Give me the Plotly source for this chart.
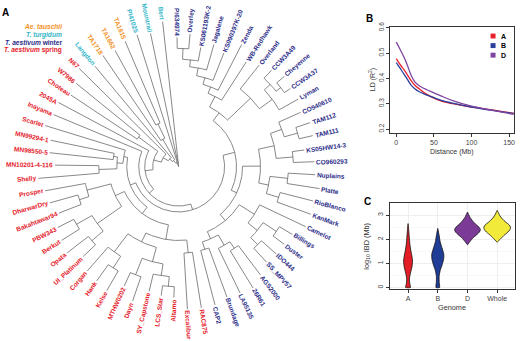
import math
import plotly.graph_objects as go

W, H = 520, 341

# ---------------- Panel A: tree data ----------------
leaf_names = ["PI634974", "Overley", "KS061193K-2", "Jagalene", "KS090397K-20", "Zenda", "WB-Redhawk",
              "Overland", "CCW3A49", "Cheyenne", "CCW3A37", "Lyman", "CO940610", "TAM112", "TAM111",
              "KS05HW14-3", "CO960293", "Nuplains", "Platte", "RioBlanco", "KanMark", "Camelot",
              "Billings", "Duster", "IDO444", "SS_MPV57", "AGS2000", "26R61", "LA95135", "Brundage",
              "CAP2", "RAC875", "Excalibur", "Altamo", "LCS_Star", "SY_Capstone", "Dayn", "MTHW0202",
              "Kelse", "Hank", "Corgan", "UI_Platinum", "Opata", "Berkut", "PBW343", "Bakahtawar94",
              "DharwarDry", "Prosper", "Shelly", "MN10201-4-116", "MN98550-5", "MN99294-1", "Scarlet",
              "Inayama", "2045A", "Choteau", "W7986", "N67", "Langdon", "TA1718", "TA1662", "TA1615",
              "PI41025", "Mountrail", "Bert"]
leaf_group = ["winter"] * 31 + ["spring"] * 27 + ["turgidum"] + ["tauschii"] * 3 + ["turgidum"] * 3
leaf_dist = [131, 135, 123, 129, 124, 139, 126,
             131, 135, 140, 137, 138, 134, 139, 138,
             127, 136, 137, 143, 139, 141, 141,
             133, 132, 132, 131, 137, 144, 142, 141,
             145, 145, 145, 133, 132, 130, 144, 133,
             145, 142, 140, 132, 142, 139, 136, 129,
             134, 136, 141, 124, 130, 131, 140,
             136, 137, 130, 133, 141, 132, 136, 134, 138,
             140, 138, 148]

# clades: [node height, child, child, ...]
T1 = [80, [87, [94, [102, [109, [120, "PI634974", "Overley"], "KS061193K-2"], "Jagalene"],
                "KS090397K-20"], "Zenda"], "WB-Redhawk"]
T2 = [100, "Overland", [116, [124, "CCW3A49", [130, "Cheyenne", "CCW3A37"]], "Lyman"]]
T3 = [98, [110, "CO940610", [124, "TAM112", "TAM111"]], [115, "KS05HW14-3", "CO960293"]]
T4 = [92, [110, "Nuplains", "Platte"], [105, "RioBlanco", "KanMark"]]
T5 = [90, "Camelot", [102, [118, "Billings", "Duster"], [112, "IDO444", "SS_MPV57"]]]
T6 = [80, [92, [100, "AGS2000", "26R61"], "LA95135"], [88, "Brundage", "CAP2"]]
R1 = [88, "RAC875", "Excalibur"]
R2 = [100, [112, [122, "Altamo", "LCS_Star"], "SY_Capstone"], [118, "Dayn", "MTHW0202"]]
R3 = [108, [122, "Kelse", "Hank"], "Corgan"]
R4 = [100, [115, "UI_Platinum", "Opata"], [118, "Berkut", "PBW343"]]
R5 = [95, [105, "Bakahtawar94", "DharwarDry"], "Prosper"]
R6 = [62, [80, "Shelly", "MN10201-4-116"], [66, "MN98550-5", "MN99294-1"]]
winter_clade = [58, [68, T1, T2], [64, [82, T3, T4], [72, T5, T6]]]
spring_clade = [52, [60, [75, R1, [85, R2, R3]], [70, R4, R5]], [56, R6, "Scarlet"]]
tree = [0, [3, [5, [8, [12, [18, [26, [34, [40, [46, winter_clade, spring_clade], "Inayama"], "2045A"],
                                  [50, "Choteau", "W7986"]], "N67"], "Langdon"],
                    [32, "TA1718", [48, "TA1662", "TA1615"]]], "PI41025"], "Mountrail"], "Bert"]

group_color = {"tauschii": "#F5901E", "turgidum": "#35B6C9", "winter": "#2B2C88", "spring": "#E5202A"}
legend_items = [("<i>Ae. tauschii</i>", "tauschii"), ("<i>T. turgidum</i>", "turgidum"),
                ("<i>T. aestivum</i> winter", "winter"), ("<i>T. aestivum</i> spring", "spring")]

# ---------------- Panel B data ----------------
ld_dist = [0, 5, 10, 15, 20, 25, 30, 40, 50, 60, 75, 100, 125, 156]
ld_A = [0.478, 0.455, 0.435, 0.413, 0.39, 0.372, 0.36, 0.338, 0.322, 0.31, 0.30, 0.287, 0.277, 0.262]
ld_B = [0.462, 0.44, 0.418, 0.395, 0.372, 0.358, 0.348, 0.335, 0.324, 0.313, 0.302, 0.287, 0.275, 0.262]
ld_D = [0.543, 0.515, 0.485, 0.45, 0.41, 0.385, 0.372, 0.356, 0.343, 0.33, 0.312, 0.29, 0.276, 0.258]
ld_names = ["A", "B", "D"]
ld_colors = ["#E8202A", "#2A3E9A", "#7E45A0"]

# ---------------- Panel C data ----------------
genomes = ["A", "B", "D", "Whole"]
vio_colors = ["#E41E26", "#1F3C96", "#7B3A96", "#F2EA3A"]
vio_y = [
    [0.0, 0.15, 0.35, 0.6, 0.85, 1.1, 1.3, 1.55, 1.8, 2.1, 2.4, 2.65],
    [0.0, 0.2, 0.45, 0.7, 0.95, 1.2, 1.4, 1.65, 1.9, 2.2, 2.45],
    [1.77, 1.9, 2.05, 2.2, 2.3, 2.4, 2.5, 2.62, 2.75, 2.9, 3.0, 3.13],
    [1.88, 2.0, 2.15, 2.3, 2.4, 2.5, 2.6, 2.72, 2.85, 3.0, 3.1, 3.2],
]
vio_w = [
    [0.08, 0.06, 0.045, 0.08, 0.13, 0.15, 0.13, 0.09, 0.06, 0.04, 0.02, 0.0],
    [0.06, 0.05, 0.045, 0.08, 0.15, 0.2, 0.2, 0.14, 0.08, 0.04, 0.0],
    [0.0, 0.08, 0.18, 0.32, 0.4, 0.435, 0.39, 0.28, 0.18, 0.09, 0.05, 0.0],
    [0.0, 0.1, 0.22, 0.36, 0.43, 0.45, 0.4, 0.28, 0.17, 0.08, 0.04, 0.0],
]

# ---------------- geometry / styles ----------------
CX, CY = 179.0, 164.0
A0 = 90.7
STEP = 360.0 / len(leaf_names)
LABEL_FS = 6.5
LABEL_GAP = 2.0
FONT = "Liberation Sans, Arial, sans-serif"

idx = {n: i for i, n in enumerate(leaf_names)}

def ang(yv):
    return A0 - yv * STEP

def pol(r, deg):
    t = math.radians(deg)
    return CX + r * math.cos(t), CY - r * math.sin(t)

lx, ly = [], []

def walk(node):
    if isinstance(node, str):
        j = idx[node]
        return float(j), leaf_dist[j]
    h = node[0]
    kids = [walk(c) for c in node[1:]]
    ys = [k[0] for k in kids]
    a1, a2 = ang(min(ys)), ang(max(ys))
    if h > 0:
        n = max(2, int(abs(a1 - a2) / 0.8) + 2)
        for i in range(n):
            px, py = pol(h, a1 + (a2 - a1) * i / (n - 1))
            lx.append(px); ly.append(py)
        lx.append(None); ly.append(None)
    for yv, r in kids:
        p1 = pol(h, ang(yv)); p2 = pol(r, ang(yv))
        lx.extend([p1[0], p2[0], None]); ly.extend([p1[1], p2[1], None])
    return sum(ys) / len(ys), h

walk(tree)

BOLD_W = {}
for c, w in zip("ABCDEFGHIJKLMNOPQRSTUVWXYZ",
                [.722, .722, .722, .722, .667, .611, .778, .722, .278, .556, .722, .611, .833, .722, .778,
                 .667, .778, .722, .667, .611, .722, .667, .944, .667, .667, .611]):
    BOLD_W[c] = w
for c, w in zip("abcdefghijklmnopqrstuvwxyz",
                [.556, .611, .556, .611, .556, .333, .611, .611, .278, .278, .556, .278, .889, .611, .611,
                 .611, .611, .389, .556, .333, .611, .556, .778, .556, .556, .5]):
    BOLD_W[c] = w
for c in "0123456789":
    BOLD_W[c] = .556
BOLD_W.update({"-": .333, "_": .556, ".": .278, " ": .278})

def text_w(s, fs):
    return sum(BOLD_W.get(c, .6) for c in s) * fs

fig = go.Figure()

# tree lines on a pixel-scaled master axis
fig.add_trace(go.Scatter(x=lx, y=ly, mode="lines", line=dict(color="#6a6a6a", width=0.8),
                         hoverinfo="skip", showlegend=False, xaxis="x", yaxis="y"))

annotations = []
for j, name in enumerate(leaf_names):
    deg = ang(j)
    w = text_w(name, LABEL_FS)
    rc = leaf_dist[j] + LABEL_GAP + w / 2
    px, py = pol(rc, deg)
    if math.cos(math.radians(deg)) < 0:
        ta = 180 - deg
    else:
        ta = -deg
    ta = (ta + 180) % 360 - 180
    annotations.append(dict(x=px, y=py, xref="x", yref="y", text="<b>%s</b>" % name, showarrow=False,
                            textangle=ta, xanchor="center", yanchor="middle",
                            font=dict(size=LABEL_FS, color=group_color[leaf_group[j]], family=FONT)))

for k, (txt, g) in enumerate(legend_items):
    annotations.append(dict(x=64, y=22.3 + k * 7.9, xref="x", yref="y", text="<b>%s</b>" % txt,
                            showarrow=False, xanchor="right", yanchor="middle",
                            font=dict(size=6.6, color=group_color[g], family=FONT)))

for letter, x, y in [("A", 6, 8), ("B", 370, 14), ("C", 368, 199)]:
    annotations.append(dict(x=x, y=y, xref="x", yref="y", text="<b>%s</b>" % letter, showarrow=False,
                            xanchor="center", yanchor="middle", font=dict(size=10, color="black", family=FONT)))

# ---------------- Panel B ----------------
for name, vals, col in zip(ld_names, [ld_A, ld_B, ld_D], ld_colors):
    fig.add_trace(go.Scatter(x=ld_dist, y=vals, mode="lines", line=dict(color=col, width=1.3),
                             line_shape="spline", showlegend=False, hoverinfo="skip",
                             xaxis="x2", yaxis="y2"))
shapes = []
for k, (name, col) in enumerate(zip(ld_names, ld_colors)):
    yc = 31.5 + k * 9.7
    shapes.append(dict(type="rect", xref="x", yref="y", x0=491.5, x1=496.5, y0=yc - 2.5, y1=yc + 2.5,
                       fillcolor=col, line=dict(width=0)))
    annotations.append(dict(x=500, y=yc, xref="x", yref="y", text="<b>%s</b>" % name, showarrow=False,
                            xanchor="left", yanchor="middle", font=dict(size=7, color="black", family=FONT)))
annotations.append(dict(x=453, y=149, xref="x", yref="y", text="Distance (Mb)", showarrow=False,
                        xanchor="center", yanchor="middle", font=dict(size=7, color="#333", family=FONT)))
annotations.append(dict(x=374, y=76, xref="x", yref="y", text="LD (R<sup>2</sup>)", showarrow=False,
                        textangle=-90, xanchor="center", yanchor="middle",
                        font=dict(size=7, color="#333", family=FONT)))

# ---------------- Panel C ----------------
for k, (g, col) in enumerate(zip(genomes, vio_colors)):
    c = k + 1
    ys = vio_y[k]; ws = vio_w[k]
    xs = [c + w for w in ws] + [c - w for w in ws[::-1]] + [c + ws[0]]
    yy = ys + ys[::-1] + [ys[0]]
    fig.add_trace(go.Scatter(x=xs, y=yy, mode="lines", fill="toself", fillcolor=col,
                             line=dict(color="#111", width=0.8, shape="spline", smoothing=0.6),
                             showlegend=False, hoverinfo="skip", xaxis="x3", yaxis="y3"))
annotations.append(dict(x=453, y=307, xref="x", yref="y", text="Genome", showarrow=False,
                        xanchor="center", yanchor="middle", font=dict(size=7.3, color="#333", family=FONT)))
annotations.append(dict(x=368, y=245, xref="x", yref="y", text="log<sub>10</sub> IBD (Mb)", showarrow=False,
                        textangle=-90, xanchor="center", yanchor="middle",
                        font=dict(size=7.3, color="#333", family=FONT)))

def px2dom_x(a, b):
    return [a / W, b / W]

def px2dom_y(top, bottom):
    return [1 - bottom / H, 1 - top / H]

fig.update_layout(
    width=W, height=H, autosize=False, margin=dict(l=0, r=0, t=0, b=0),
    paper_bgcolor="white", plot_bgcolor="rgba(0,0,0,0)",
    font=dict(family=FONT, size=7, color="#333"),
    xaxis=dict(domain=[0, 1], range=[0, W], visible=False, fixedrange=True),
    yaxis=dict(domain=[0, 1], range=[H, 0], visible=False, fixedrange=True),
    xaxis2=dict(domain=px2dom_x(391, 515), range=[-8, 156.5], anchor="y2", showline=True, mirror=True,
                linecolor="#333", linewidth=1, ticks="outside", ticklen=3, tickcolor="#333",
                tickvals=[0, 50, 100, 150], showgrid=False, zeroline=False,
                tickfont=dict(size=7, color="#444")),
    yaxis2=dict(domain=px2dom_y(22, 130), range=[0.184, 0.604], anchor="x2", showline=True, mirror=True,
                linecolor="#333", linewidth=1, ticks="outside", ticklen=3, tickcolor="#333",
                tickvals=[0.2, 0.3, 0.4, 0.5, 0.6], tickangle=-90, showgrid=False, zeroline=False,
                tickfont=dict(size=6.5, color="#444")),
    xaxis3=dict(domain=px2dom_x(391, 516), range=[0.4, 4.6], anchor="y3", showline=True, mirror=True,
                linecolor="#333", linewidth=1, ticks="outside", ticklen=3, tickcolor="#333",
                tickvals=[1, 2, 3, 4], ticktext=genomes, showgrid=True, gridcolor="#EBEBEB",
                gridwidth=0.8, zeroline=False, tickfont=dict(size=7, color="#444")),
    yaxis3=dict(domain=px2dom_y(200.7, 288), range=[-0.053, 3.515], anchor="x3", showline=True, mirror=True,
                linecolor="#333", linewidth=1, ticks="outside", ticklen=3, tickcolor="#333",
                tickvals=[0, 1, 2, 3], tickangle=-90, showgrid=True, gridcolor="#EBEBEB", gridwidth=0.8,
                minor=dict(tickvals=[0.5, 1.5, 2.5, 3.5], showgrid=True, gridcolor="#F3F3F3", gridwidth=0.5,
                           ticks=""),
                zeroline=False, tickfont=dict(size=7, color="#444")),
    annotations=annotations, shapes=shapes,
)

fig.write_html("out.html", config={"displayModeBar": False, "staticPlot": True},
               post_script="document.body.style.margin='0';document.body.style.padding='0';"
                           "document.documentElement.style.overflow='hidden';")
